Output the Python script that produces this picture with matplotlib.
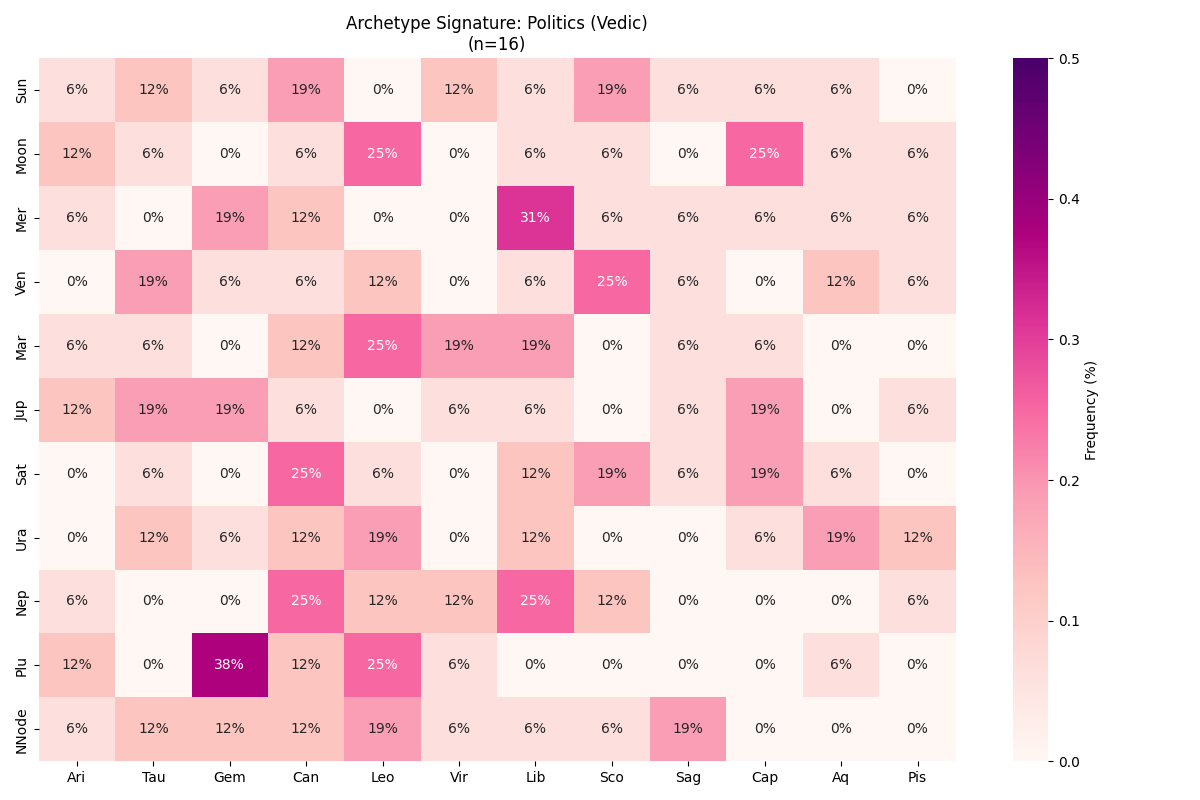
import numpy as np
import pandas as pd
import matplotlib
matplotlib.use("Agg")
import matplotlib.pyplot as plt
import seaborn as sns

n_charts = 16
planets = ["Sun", "Moon", "Mer", "Ven", "Mar", "Jup", "Sat", "Ura", "Nep", "Plu", "NNode"]
signs = ["Ari", "Tau", "Gem", "Can", "Leo", "Vir", "Lib", "Sco", "Sag", "Cap", "Aq", "Pis"]

# counts per planet in each sign (out of n_charts)
counts = [
    [1, 2, 1, 3, 0, 2, 1, 3, 1, 1, 1, 0],
    [2, 1, 0, 1, 4, 0, 1, 1, 0, 4, 1, 1],
    [1, 0, 3, 2, 0, 0, 5, 1, 1, 1, 1, 1],
    [0, 3, 1, 1, 2, 0, 1, 4, 1, 0, 2, 1],
    [1, 1, 0, 2, 4, 3, 3, 0, 1, 1, 0, 0],
    [2, 3, 3, 1, 0, 1, 1, 0, 1, 3, 0, 1],
    [0, 1, 0, 4, 1, 0, 2, 3, 1, 3, 1, 0],
    [0, 2, 1, 2, 3, 0, 2, 0, 0, 1, 3, 2],
    [1, 0, 0, 4, 2, 2, 4, 2, 0, 0, 0, 1],
    [2, 0, 6, 2, 4, 1, 0, 0, 0, 0, 1, 0],
    [1, 2, 2, 2, 3, 1, 1, 1, 3, 0, 0, 0],
]

df = pd.DataFrame(np.array(counts) / n_charts, index=planets, columns=signs)

fig, ax = plt.subplots(figsize=(12, 8), dpi=100)
sns.heatmap(df, annot=True, fmt=".0%", cmap="RdPu", vmin=0, vmax=0.5,
            cbar_kws={"label": "Frequency (%)"}, ax=ax)
ax.set_title("Archetype Signature: Politics (Vedic)\n(n=16)")
plt.tight_layout()
plt.savefig("out.png")
